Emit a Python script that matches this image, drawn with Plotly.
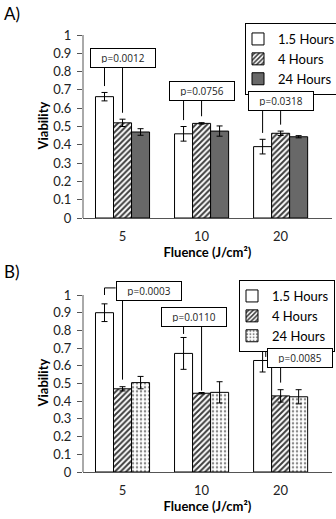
import plotly.graph_objects as go

# ---------------- data ----------------
categories = ["5", "10", "20"]
series_names = ["1.5 Hours", "4 Hours", "24 Hours"]

a_15h = [0.663, 0.46, 0.39]
a_15h_err = [0.023, 0.04, 0.04]
a_4h = [0.52, 0.517, 0.463]
a_4h_err = [0.02, 0.004, 0.012]
a_24h = [0.47, 0.475, 0.444]
a_24h_err = [0.018, 0.028, 0.006]

b_15h = [0.90, 0.67, 0.63]
b_15h_err = [0.05, 0.09, 0.065]
b_4h = [0.47, 0.445, 0.43]
b_4h_err = [0.012, 0.004, 0.035]
b_24h = [0.505, 0.45, 0.425]
b_24h_err = [0.035, 0.06, 0.04]

a_pvalues = ["p=0.0012", "p=0.0756", "p=0.0318"]
b_pvalues = ["p=0.0003", "p=0.0110", "p=0.0085"]

y_tick_values = [0, 0.1, 0.2, 0.3, 0.4, 0.5, 0.6, 0.7, 0.8, 0.9, 1]
y_tick_labels = ["0", "0.1", "0.2", "0.3", "0.4", "0.5", "0.6", "0.7", "0.8", "0.9", "1"]

panel_labels = ["A)", "B)"]
x_title = "Fluence (J/cm²)"
y_title = "Viability"

# ---------------- style ----------------
W, H = 336, 519
FONT = "Lato"
BOX_FONT = "Open Sans"
BARGAP = 0.316
BAR_W = (1 - BARGAP) / 3
X_RANGE = [-0.5, 2.65]
Y_RANGE = [0, 1.1]
X_DOM = [83 / W, 332 / W]
A_DOM = [1 - 218 / H, 1 - 16.7 / H]
B_DOM = [1 - 472 / H, 1 - 277.3 / H]
PX_PER_X = (X_DOM[1] - X_DOM[0]) * W / (X_RANGE[1] - X_RANGE[0])
A_PX_PER_Y = (A_DOM[1] - A_DOM[0]) * H / (Y_RANGE[1] - Y_RANGE[0])
B_PX_PER_Y = (B_DOM[1] - B_DOM[0]) * H / (Y_RANGE[1] - Y_RANGE[0])

BOX_TEXT_W = 56
BOX_PAD = 4
BOX_TOTAL_W = BOX_TEXT_W + 2 * BOX_PAD + 2
BOX_TOTAL_H = 20

AXIS_COLOR = "#555555"
hatch = dict(shape="/", fgcolor="#3c3c3c", bgcolor="white", size=4, solidity=0.5)
fill_styles_a = [
    dict(color="white"),
    dict(color="white", pattern=hatch),
    dict(color="#686868"),
]
fill_styles_b = [
    dict(color="white"),
    dict(color="white", pattern=hatch),
    dict(color="white", pattern=dict(shape=".", fgcolor="#8a8a8a", bgcolor="white", size=4, solidity=0.3)),
]

fig = go.Figure()


def add_panel(vals, errs, fills, xa, ya, legend_id):
    for name, v, e, f in zip(series_names, vals, errs, fills):
        marker = dict(f)
        marker["line"] = dict(color="black", width=1)
        fig.add_trace(go.Bar(
            x=categories, y=v, name=name, xaxis=xa, yaxis=ya,
            marker=marker, legend=legend_id,
            error_y=dict(type="data", array=e, color="black", thickness=1, width=3),
        ))


add_panel([a_15h, a_4h, a_24h], [a_15h_err, a_4h_err, a_24h_err], fill_styles_a, "x", "y", "legend")
add_panel([b_15h, b_4h, b_24h], [b_15h_err, b_4h_err, b_24h_err], fill_styles_b, "x2", "y2", "legend2")

shapes = []
annotations = []


def line(xref, yref, pts):
    path = "M " + " L ".join(f"{x},{y}" for x, y in pts)
    shapes.append(dict(type="path", path=path, xref=xref, yref=yref,
                       line=dict(color="black", width=1)))


def p_box(xref, yref, x, y, text):
    annotations.append(dict(
        x=x, y=y, xref=xref, yref=yref, text=text, showarrow=False,
        width=BOX_TEXT_W, height=BOX_TOTAL_H - 2 * BOX_PAD - 2, borderpad=BOX_PAD,
        bordercolor="black", borderwidth=1, bgcolor="white", align="center",
        font=dict(family=BOX_FONT, size=10, color="#222222"),
    ))


# Panel A p-value boxes: centred on category, two leader lines
a_box_dy = [0.188, 0.173, 0.164]
a_gap = 0.035
for i, txt in enumerate(a_pvalues):
    tops = [a_15h[i] + a_15h_err[i], a_4h[i] + a_4h_err[i], a_24h[i] + a_24h_err[i]]
    cy = max(tops) + a_box_dy[i]
    p_box("x", "y", i, cy, txt)
    bottom = cy - (BOX_TOTAL_H / 2) / A_PX_PER_Y
    line("x", "y", [(i - BAR_W, bottom), (i - BAR_W, tops[0] + a_gap)])
    line("x", "y", [(i, bottom), (i, tops[1] + a_gap)])

# Panel B p-value boxes
b_box_dx = [0.33, -0.095, 0.25]
b_box_dy = [0.075, 0.118, -0.05]
b_kind = ["bracket", "lines", "bracket"]
half_w = (BOX_TOTAL_W / 2) / PX_PER_X
for i, txt in enumerate(b_pvalues):
    tops = [b_15h[i] + b_15h_err[i], b_4h[i] + b_4h_err[i], b_24h[i] + b_24h_err[i]]
    cy = max(tops) + b_box_dy[i]
    cx = i + b_box_dx[i]
    p_box("x2", "y2", cx, cy, txt)
    bottom = cy - (BOX_TOTAL_H / 2) / B_PX_PER_Y
    if b_kind[i] == "bracket":
        if i == 0:
            xv, y0, yh = i - BAR_W, tops[0] + 0.05, cy + 0.015
        else:
            xv, y0, yh = i - BAR_W + 0.04, tops[0] - 0.045, tops[0]
        line("x2", "y2", [(xv, y0), (xv, yh), (cx - half_w, yh)])
        line("x2", "y2", [(i, bottom), (i, tops[1] + 0.04)])
    else:
        line("x2", "y2", [(i - BAR_W, bottom), (i - BAR_W, tops[0] + 0.02)])
        line("x2", "y2", [(i, bottom), (i, b_4h[i] + 0.015)])

# y-axis lines (0..1 only)
for xr, yr in [("x domain", "y"), ("x2 domain", "y2")]:
    shapes.append(dict(type="line", xref=xr, yref=yr, x0=0, x1=0, y0=0, y1=1,
                       line=dict(color=AXIS_COLOR, width=1)))

# panel labels and y titles
for lbl, ytop in zip(panel_labels, [1 - 13.5 / H, 1 - 271 / H]):
    annotations.append(dict(x=2 / W, y=ytop, xref="paper", yref="paper", text=lbl,
                            showarrow=False, xanchor="left", yanchor="middle",
                            font=dict(family=FONT, size=17, color="black")))
for yc in [1 - 126.5 / H, 1 - 383.5 / H]:
    annotations.append(dict(x=42 / W, y=yc, xref="paper", yref="paper",
                            text=f"<b>{y_title}</b>", textangle=-90, showarrow=False,
                            xanchor="center", yanchor="middle",
                            font=dict(family=FONT, size=13, color="black")))

xaxis_common = dict(
    type="category", range=X_RANGE, domain=X_DOM, showline=True, linecolor=AXIS_COLOR,
    linewidth=1, ticks="", ticklabelstandoff=6, showgrid=False, zeroline=False,
    automargin=False,
    tickfont=dict(family=FONT, size=13, color="#222222"),
    title=dict(text=f"<b>{x_title}</b>", font=dict(family=FONT, size=13, color="black"), standoff=4),
    fixedrange=True,
)
yaxis_common = dict(
    range=Y_RANGE, showline=False, ticks="outside", ticklen=5, tickcolor=AXIS_COLOR,
    tickvals=y_tick_values, ticktext=y_tick_labels, showgrid=False, zeroline=False,
    automargin=False,
    tickfont=dict(family=FONT, size=13, color="#222222"), ticklabelstandoff=3,
    fixedrange=True,
)

legend_common = dict(
    bgcolor="white", bordercolor="black", borderwidth=1, xanchor="left", yanchor="top",
    font=dict(family=FONT, size=13, color="black"), itemwidth=30, tracegroupgap=0,
    indentation=-8, itemclick=False, itemdoubleclick=False,
)

fig.update_layout(
    template="none",
    width=W, height=H, margin=dict(l=0, r=0, t=0, b=0, autoexpand=False),
    paper_bgcolor="white", plot_bgcolor="white",
    barmode="group", bargap=BARGAP, bargroupgap=0,
    xaxis=dict(xaxis_common, anchor="y"),
    yaxis=dict(yaxis_common, domain=A_DOM, anchor="x"),
    xaxis2=dict(xaxis_common, anchor="y2"),
    yaxis2=dict(yaxis_common, domain=B_DOM, anchor="x2"),
    legend=dict(legend_common, x=245 / W, y=1 - 23 / H),
    legend2=dict(legend_common, x=239 / W, y=1 - 280 / H),
    shapes=shapes, annotations=annotations,
    font=dict(family=FONT),
)

fig.write_html(
    "out.html",
    config={"displayModeBar": False},
    post_script="document.body.style.margin='0';document.body.style.overflow='hidden';",
)
